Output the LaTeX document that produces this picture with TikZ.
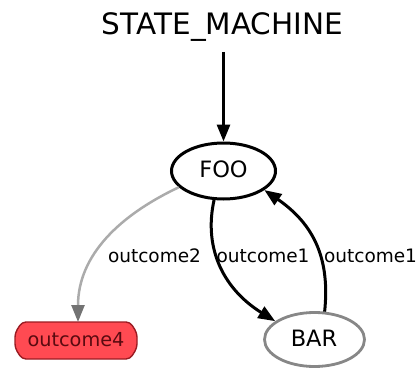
\documentclass[tikz,border=0pt]{standalone}
\usepackage{fontspec}
\setmainfont{DejaVu Sans}
\usetikzlibrary{arrows.meta,shapes.geometric}
\definecolor{termred}{HTML}{FF4A52}
\definecolor{termedge}{HTML}{9A1B22}
\definecolor{termtext}{HTML}{5A0A10}
\tikzset{
  state/.style={ellipse, draw, line width=3pt, minimum width=104pt, minimum height=56pt, inner sep=0pt},
  tip/.style={-{Triangle[length=17pt,width=13pt]}},
  edge/.style={line width=3pt, tip},
  lbl/.style={anchor=base, inner sep=0pt, font=\fontsize{18.5}{20}\selectfont},
}
\begin{document}
\begin{tikzpicture}[x=1pt, y=-1pt]
  \useasboundingbox (0,0) rectangle (420,369);

  % container title and its entry arrow
  \node[anchor=base, inner sep=0pt, font=\fontsize{29.5}{31}\selectfont] (sm) at (222.5,35) {STATE\_MACHINE};
  \coordinate (smout) at (223.5,52);

  % states
  \node[state] (foo) at (223.5,171) {};
  \node[anchor=base, inner sep=0pt, font=\fontsize{22.5}{24}\selectfont] (footxt) at (223.5,177) {FOO};
  \node[state, draw=black!47, line width=2.8pt, minimum width=100pt, minimum height=54pt] (bar) at (314.5,339.5) {};
  \node[anchor=base, inner sep=0pt, font=\fontsize{22.5}{24}\selectfont] (bartxt) at (314,346) {BAR};

  % terminal outcome
  \draw[fill=termred, draw=termedge, line width=1.4pt, rounded corners=4pt]
    (22,322) -- (130,322) -- (137,333) -- (137,348) -- (130,359) -- (22,359) -- (15,348) -- (15,333) -- cycle;
  \coordinate (out4top) at (78,322);
  \node[anchor=base, inner sep=0pt, text=termtext, font=\fontsize{19.3}{21}\selectfont] (out4txt) at (76,346) {outcome4};

  % transitions
  \draw[edge] (smout) -- (foo.north);
  \draw[line width=2.5pt, black!33, -{Triangle[length=17pt,width=13pt,fill=black!55,color=black!55]}]
    (foo.200) .. controls (120,215) and (78,255) .. (out4top);
  \draw[edge] (foo.252) .. controls (203,250) and (225,290) .. (bar.155);
  \draw[edge] (bar.70) .. controls (330,260) and (315,225) .. (foo.-25);

  % transition labels
  \node[lbl] (l2) at (154.5,262) {outcome2};
  \node[lbl] (l1a) at (263,262) {outcome1};
  \node[lbl] (l1b) at (370.5,262) {outcome1};
\end{tikzpicture}
\end{document}
